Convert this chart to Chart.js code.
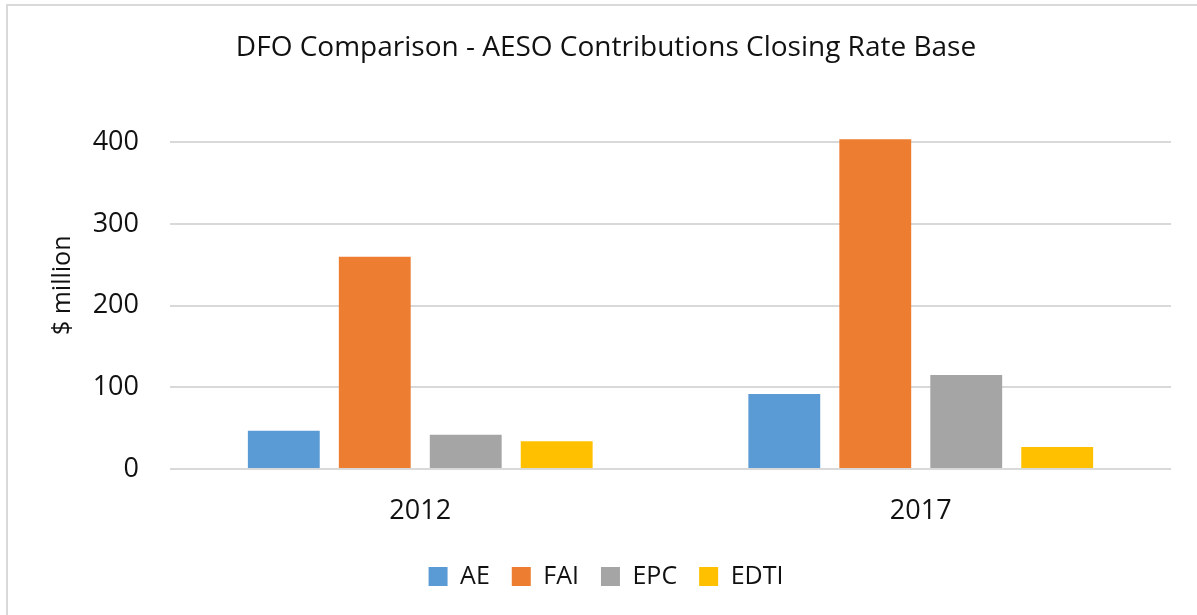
<!DOCTYPE html>
<html>
<head>
<meta charset="utf-8">
<script src="https://cdn.jsdelivr.net/npm/chart.js@4/dist/chart.umd.min.js"></script>
<style>
  html, body { margin: 0; padding: 0; background: #fff; overflow: hidden; }
  #wrap { position: relative; width: 1197px; height: 615px; }
  #frame { position: absolute; left: 6px; top: 4px; right: -20px; bottom: -20px; border-left: 2px solid #d9d9d9; border-top: 2px solid #d9d9d9; pointer-events: none; }
</style>
</head>
<body>
<div id="wrap">
  <canvas id="chart" width="1197" height="615"></canvas>
  <div id="frame"></div>
</div>
<script>
// data
const years = ["2012", "2017"];
const seriesNames = ["AE", "FAI", "EPC", "EDTI"];
const aeValues = [47, 92];
const faiValues = [260, 404];
const epcValues = [42, 115];
const edtiValues = [34, 27];
const yTicks = [0, 100, 200, 300, 400];
const colors = ["#5b9bd5", "#ed7d31", "#a5a5a5", "#ffc000"];

const allValues = [aeValues, faiValues, epcValues, edtiValues];
const font = "'Open Sans', 'DejaVu Sans', sans-serif";

new Chart(document.getElementById("chart"), {
    type: "bar",
    data: {
        labels: years,
        datasets: seriesNames.map((name, i) => ({
            label: name,
            data: allValues[i],
            backgroundColor: colors[i],
            categoryPercentage: 0.727,
            barPercentage: 0.79
        }))
    },
    options: {
        responsive: false,
        animation: false,
        layout: { padding: { top: 31, left: 41, right: 26, bottom: 16 } },
        plugins: {
            title: {
                display: true,
                text: "DFO Comparison - AESO Contributions Closing Rate Base",
                color: "#111",
                font: { family: font, size: 28, weight: "normal" },
                padding: { top: 0, bottom: 37 }
            },
            legend: {
                position: "bottom",
                labels: {
                    boxWidth: 19,
                    boxHeight: 19,
                    padding: 22,
                    color: "#111",
                    font: { family: font, size: 25 }
                }
            },
            tooltip: { enabled: false }
        },
        scales: {
            x: {
                grid: { display: false, drawTicks: false },
                border: { display: false },
                ticks: { color: "#111", padding: 26, font: { family: font, size: 27 } },
                afterFit: s => { s.height = 73; }
            },
            y: {
                min: 0,
                max: 450,
                afterBuildTicks: s => { s.ticks = yTicks.map(v => ({ value: v })); },
                grid: { color: "#d9d9d9", lineWidth: 2, drawTicks: false },
                border: { display: false },
                ticks: { color: "#111", padding: 31, font: { family: font, size: 27 } },
                title: {
                    display: true,
                    text: "$ million",
                    color: "#111",
                    font: { family: font, size: 25 },
                    padding: { top: 7, bottom: 0 }
                },
                afterFit: s => { s.width = 129; }
            }
        }
    }
});
</script>
</body>
</html>
